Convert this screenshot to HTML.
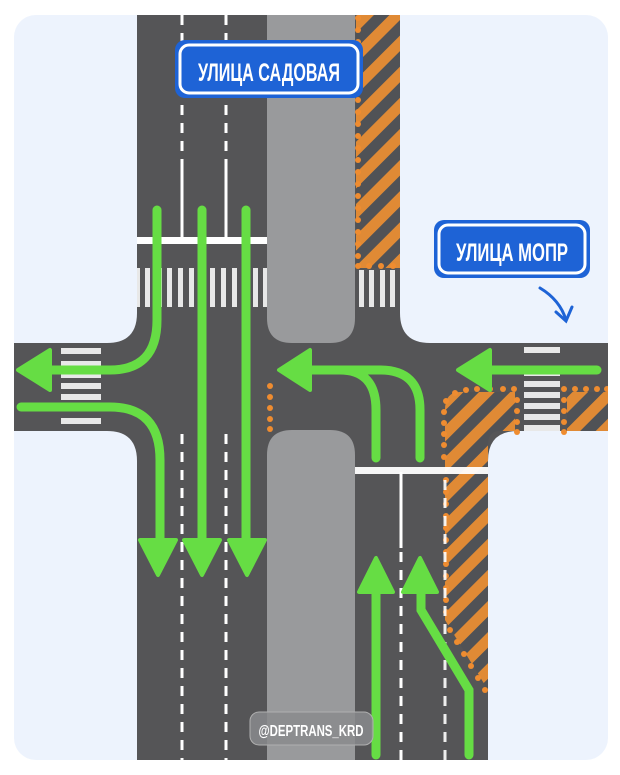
<!DOCTYPE html>
<html><head><meta charset="utf-8"><style>
html,body{margin:0;padding:0;background:#fff;}
svg{display:block;}
</style></head><body>
<svg width="620" height="775" viewBox="0 0 620 775" xmlns="http://www.w3.org/2000/svg">
<defs>
<pattern id="h" patternUnits="userSpaceOnUse" width="22" height="22" patternTransform="rotate(45)">
<rect width="22" height="22" fill="#505256"/>
<rect width="11" height="22" fill="#e08a35"/>
</pattern>
<clipPath id="card"><rect x="14" y="15" width="594" height="745" rx="22"/></clipPath>
</defs>
<rect width="620" height="775" fill="#fff"/>
<rect x="14" y="15" width="594" height="745" rx="22" fill="#edf3fd"/>
<g clip-path="url(#card)">
<rect x="137" y="0" width="263" height="360" fill="#555557"/>
<rect x="137" y="420" width="351" height="360" fill="#555557"/>
<rect x="0" y="343" width="620" height="88" fill="#555557"/>
<path d="M107 343 Q137 343 137 313 L137 343Z" fill="#555557"/>
<path d="M400 313 Q400 343 430 343 L400 343Z" fill="#555557"/>
<path d="M107 431 Q137 431 137 461 L137 431Z" fill="#555557"/>
<path d="M488 461 Q488 431 518 431 L488 431Z" fill="#555557"/>
<path d="M267 0 H355 V318 Q355 343 330 343 H292 Q267 343 267 318Z" fill="#999a9c"/>
<path d="M267 455 Q267 430 292 430 H330 Q355 430 355 455 V780 H267Z" fill="#999a9c"/>
<rect x="356" y="15" width="44" height="253" fill="url(#h)"/>
<path d="M450 392 H515 V431 H500 Q488 431 488 445 V690 L445 620 V410 Q445 392 460 392Z" fill="url(#h)"/>
<rect x="567" y="392" width="45" height="39" fill="url(#h)"/>
<g fill="#ef8c30">
<circle cx="358" cy="18" r="3"/><circle cx="358" cy="30" r="3"/><circle cx="358" cy="42" r="3"/><circle cx="358" cy="54" r="3"/>
<circle cx="358" cy="100" r="3"/><circle cx="358" cy="112" r="3"/><circle cx="358" cy="124" r="3"/><circle cx="358" cy="136" r="3"/><circle cx="358" cy="148" r="3"/><circle cx="358" cy="160" r="3"/><circle cx="358" cy="172" r="3"/><circle cx="358" cy="184" r="3"/><circle cx="358" cy="196" r="3"/><circle cx="358" cy="208" r="3"/><circle cx="358" cy="220" r="3"/><circle cx="358" cy="232" r="3"/><circle cx="358" cy="244" r="3"/><circle cx="358" cy="256" r="3"/>
<circle cx="358" cy="266" r="3"/><circle cx="369" cy="266" r="3"/><circle cx="381" cy="266" r="3"/><circle cx="393" cy="266" r="3"/>
<circle cx="270" cy="386" r="3"/><circle cx="270" cy="397" r="3"/><circle cx="270" cy="408" r="3"/><circle cx="270" cy="419" r="3"/><circle cx="270" cy="429" r="3"/>
<circle cx="455" cy="393" r="3"/><circle cx="466" cy="390" r="3"/><circle cx="477" cy="389" r="3"/><circle cx="490" cy="389" r="3"/><circle cx="503" cy="389" r="3"/><circle cx="514" cy="389" r="3"/>
<circle cx="446" cy="401" r="3"/><circle cx="444" cy="412" r="3"/><circle cx="444" cy="423" r="3"/><circle cx="444" cy="434" r="3"/><circle cx="444" cy="445" r="3"/><circle cx="444" cy="457" r="3"/>
<circle cx="446" cy="480" r="3"/><circle cx="446" cy="492" r="3"/><circle cx="446" cy="504" r="3"/><circle cx="446" cy="516" r="3"/><circle cx="446" cy="528" r="3"/><circle cx="446" cy="540" r="3"/><circle cx="446" cy="552" r="3"/><circle cx="446" cy="564" r="3"/><circle cx="446" cy="576" r="3"/><circle cx="446" cy="588" r="3"/><circle cx="446" cy="600" r="3"/><circle cx="446" cy="612" r="3"/>
<circle cx="450" cy="630" r="3"/><circle cx="457" cy="642" r="3"/><circle cx="464" cy="654" r="3"/><circle cx="471" cy="666" r="3"/><circle cx="478" cy="678" r="3"/><circle cx="485" cy="690" r="3"/>
<circle cx="517" cy="400" r="3"/><circle cx="517" cy="411" r="3"/><circle cx="517" cy="422" r="3"/><circle cx="517" cy="432" r="3"/>
<circle cx="564" cy="389" r="3"/><circle cx="575" cy="389" r="3"/><circle cx="586" cy="389" r="3"/><circle cx="597" cy="389" r="3"/><circle cx="607" cy="389" r="3"/>
<circle cx="564" cy="400" r="3"/><circle cx="564" cy="411" r="3"/><circle cx="564" cy="422" r="3"/><circle cx="564" cy="432" r="3"/>
</g>
<g stroke="#fff" stroke-width="3" fill="none">
<line x1="182" y1="15" x2="182" y2="160" stroke-dasharray="10 8"/>
<line x1="226" y1="15" x2="226" y2="160" stroke-dasharray="10 8"/>
<line x1="182" y1="160" x2="182" y2="240"/>
<line x1="226" y1="160" x2="226" y2="240"/>
<line x1="182" y1="434" x2="182" y2="760" stroke-dasharray="10 8"/>
<line x1="226" y1="434" x2="226" y2="760" stroke-dasharray="10 8"/>
<line x1="401" y1="472" x2="401" y2="548"/>
<line x1="401" y1="552" x2="401" y2="760" stroke-dasharray="10 8"/>
<line x1="445" y1="480" x2="445" y2="760" stroke-dasharray="10 8" stroke-opacity="0.9"/>
</g>
<rect x="137" y="237" width="130" height="7" fill="#fff"/>
<rect x="355" y="467" width="133" height="7" fill="#fff" fill-opacity="0.95"/>
<g fill="#e8e8e8">
<rect x="137" y="268" width="3" height="39"/>
<rect x="145" y="268" width="5" height="39"/><rect x="157" y="268" width="5" height="39"/><rect x="167" y="268" width="5" height="39"/><rect x="178" y="268" width="5" height="39"/><rect x="189" y="268" width="5" height="39"/><rect x="199" y="268" width="5" height="39"/><rect x="210" y="268" width="5" height="39"/><rect x="221" y="268" width="5" height="39"/><rect x="232" y="268" width="5" height="39"/><rect x="242" y="268" width="5" height="39"/><rect x="253" y="268" width="5" height="39"/><rect x="263" y="268" width="4" height="39"/>
<rect x="359" y="270" width="5" height="37"/><rect x="369" y="270" width="5" height="37"/><rect x="380" y="270" width="5" height="37"/><rect x="390" y="270" width="5" height="37"/>
<rect x="61" y="348" width="40" height="6"/><rect x="61" y="361" width="40" height="6"/><rect x="61" y="372" width="40" height="6"/><rect x="61" y="383" width="40" height="6"/><rect x="61" y="394" width="40" height="6"/><rect x="61" y="405" width="40" height="6"/><rect x="61" y="418" width="40" height="6"/>
<rect x="524" y="347" width="36" height="6"/><rect x="524" y="370" width="36" height="6"/><rect x="524" y="381" width="36" height="6"/><rect x="524" y="392" width="36" height="6"/><rect x="524" y="403" width="36" height="6"/><rect x="524" y="414" width="36" height="6"/><rect x="524" y="425" width="36" height="6"/>
</g>
<g stroke="#66dd44" stroke-width="9" fill="none" stroke-linecap="round">
<path d="M157 210 V320 Q157 370 110 370 H40"/>
<line x1="202" y1="210" x2="202" y2="545"/>
<line x1="246" y1="210" x2="246" y2="545"/>
<path d="M21 407 H110 Q160 407 160 460 V545"/>
<line x1="597" y1="370" x2="470" y2="370"/>
<path d="M376 458 V410 Q376 370 340 370 H300"/>
<path d="M420 458 V410 Q420 370 380 370 H340"/>
<line x1="376" y1="755" x2="376" y2="580"/>
<path d="M469 755 V690 L421 610 V580"/>
</g>
<g fill="#66dd44" stroke="#66dd44" stroke-width="4" stroke-linejoin="round">
<polygon points="18,370 50,350 50,390"/>
<polygon points="140,540 176,540 158,575"/>
<polygon points="184,540 220,540 202,575"/>
<polygon points="229,540 265,540 247,575"/>
<polygon points="458,370 490,350 490,390"/>
<polygon points="279,370 310,350 310,390"/>
<polygon points="376,558 359,592 393,592"/>
<polygon points="420,558 403,592 437,592"/>
</g>
</g>
<rect x="175" y="40" width="188" height="58" rx="10" fill="#1e63d6"/>
<rect x="180" y="45" width="178" height="48" rx="9" fill="none" stroke="#fff" stroke-width="3"/>
<text x="269" y="81" text-anchor="middle" font-family="Liberation Sans, DejaVu Sans, sans-serif" font-weight="bold" font-size="25" fill="#fff" textLength="142" lengthAdjust="spacingAndGlyphs">УЛИЦА САДОВАЯ</text>
<rect x="434" y="220" width="156" height="58" rx="10" fill="#1e63d6"/>
<rect x="439" y="225" width="146" height="48" rx="9" fill="none" stroke="#fff" stroke-width="3"/>
<text x="512" y="261" text-anchor="middle" font-family="Liberation Sans, DejaVu Sans, sans-serif" font-weight="bold" font-size="25" fill="#fff" textLength="112" lengthAdjust="spacingAndGlyphs">УЛИЦА МОПР</text>
<g stroke="#1e63d6" stroke-width="3" fill="none" stroke-linecap="round">
<path d="M540 288 Q560 300 566 320"/>
<path d="M556 312 L566 321 L572 307"/>
</g>
<rect x="250" y="712" width="123" height="33" rx="9" fill="#8a8b8d" fill-opacity="0.85" stroke="#b0b0b0" stroke-width="1"/>
<text x="311" y="736" text-anchor="middle" font-family="Liberation Sans, sans-serif" font-weight="bold" font-size="16" fill="#fff" textLength="105" lengthAdjust="spacingAndGlyphs">@DEPTRANS_KRD</text>
</svg>
</body></html>
